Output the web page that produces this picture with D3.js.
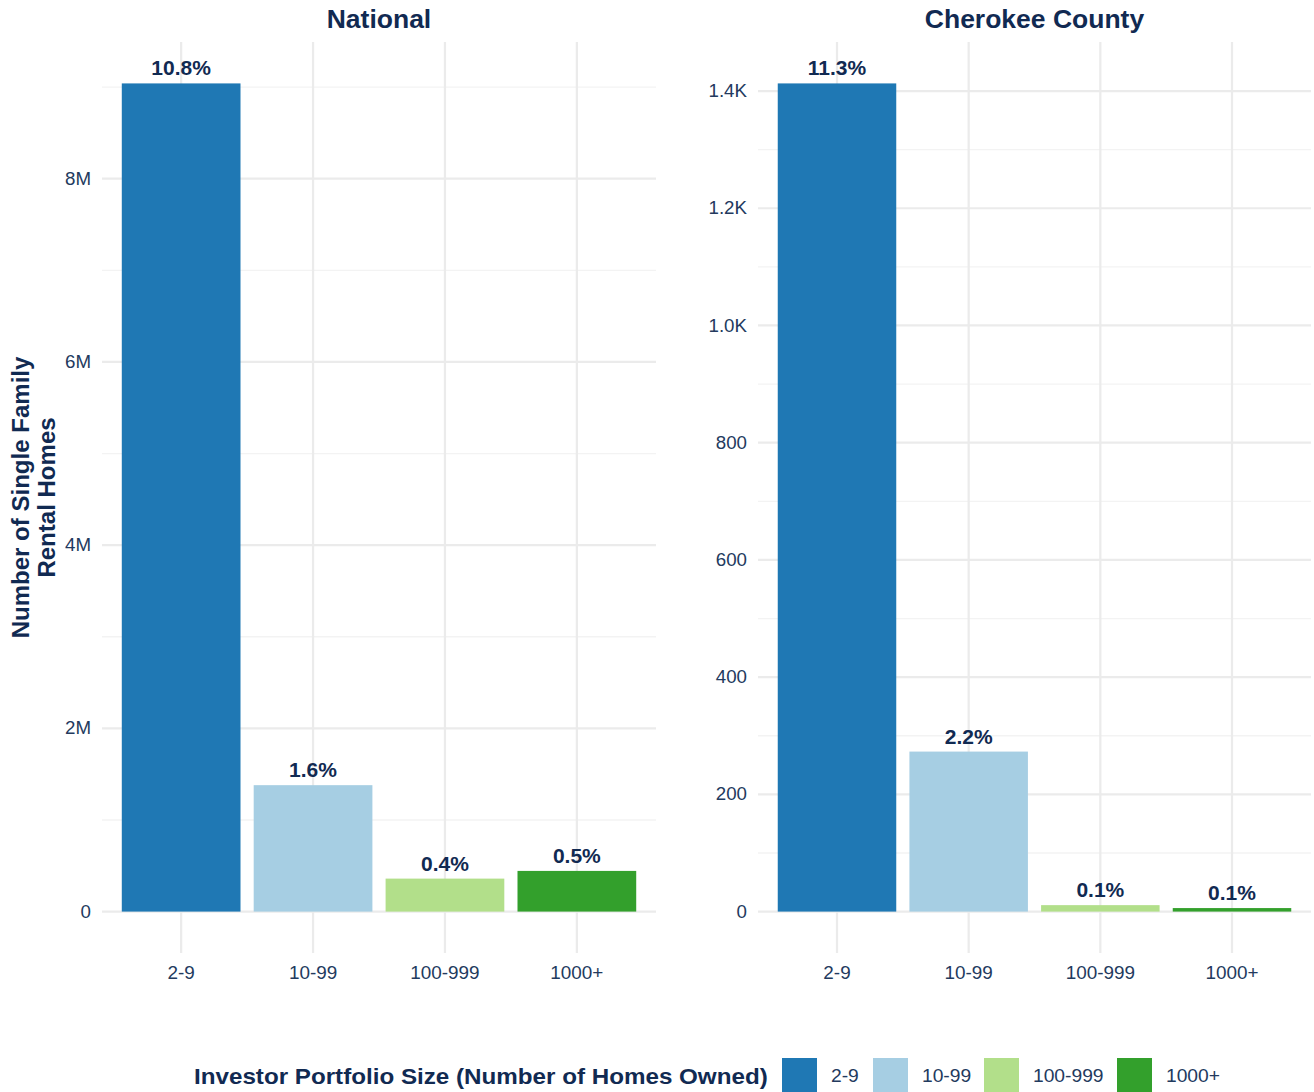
<!DOCTYPE html>
<html>
<head>
<meta charset="utf-8">
<script src="https://cdn.jsdelivr.net/npm/d3@7"></script>
<style>
  html, body { margin: 0; padding: 0; background: #ffffff; }
  svg { display: block; font-family: "Liberation Sans", Arial, sans-serif; }
</style>
</head>
<body>
<svg id="chart" width="1314" height="1092"></svg>
<script>
// ---- Data ----
const categories = ["2-9", "10-99", "100-999", "1000+"];
const panelTitles = ["National", "Cherokee County"];
const nationalValues = [9040000, 1380000, 360000, 444000];
const cherokeeValues = [1413, 273, 11, 6];
const nationalPct = ["10.8%", "1.6%", "0.4%", "0.5%"];
const cherokeePct = ["11.3%", "2.2%", "0.1%", "0.1%"];
const nationalTicks = [0, 2000000, 4000000, 6000000, 8000000];
const nationalTickLabels = ["0", "2M", "4M", "6M", "8M"];
const cherokeeTicks = [0, 200, 400, 600, 800, 1000, 1200, 1400];
const cherokeeTickLabels = ["0", "200", "400", "600", "800", "1.0K", "1.2K", "1.4K"];
const colors = ["#1f78b4", "#a6cee3", "#b2df8a", "#33a02c"];
const yTitleLines = ["Number of Single Family", "Rental Homes"];
const legendTitle = "Investor Portfolio Size (Number of Homes Owned)";

(function () {
  const svg = d3.select("#chart");
  const navy = "#112a52";
  const tickColor = "#233a5e";
  const panelTop = 42, panelBottom = 953;
  const panels = [
    { title: panelTitles[0], values: nationalValues, pct: nationalPct, ticks: nationalTicks, tickLabels: nationalTickLabels, x0: 102, x1: 656 },
    { title: panelTitles[1], values: cherokeeValues, pct: cherokeePct, ticks: cherokeeTicks, tickLabels: cherokeeTickLabels, x0: 758, x1: 1311 }
  ];

  // horizontal glyph stretch helper (keeps anchor x in place)
  function stretch(sel, s) {
    sel.each(function () {
      const t = d3.select(this);
      const x = +t.attr("x") || 0;
      t.attr("x", x / s).attr("transform", `scale(${s},1)`);
    });
  }

  const color = d3.scaleOrdinal().domain(categories).range(colors);

  panels.forEach(p => {
    const g = svg.append("g");
    const maxV = d3.max(p.values);
    const y = d3.scaleLinear().domain([-0.05 * maxV, 1.05 * maxV]).range([panelBottom, panelTop]);
    const x = d3.scaleBand().domain(categories).range([p.x0, p.x1]).paddingInner(0.1).paddingOuter(0.15);

    // minor gridlines
    const step = p.ticks[1] - p.ticks[0];
    const minor = [];
    p.ticks.forEach(t => { const m = t + step / 2; if (m <= y.domain()[1]) minor.push(m); });
    g.append("g").selectAll("line").data(minor).join("line")
      .attr("x1", p.x0).attr("x2", p.x1)
      .attr("y1", d => y(d)).attr("y2", d => y(d))
      .attr("stroke", "#f3f3f3").attr("stroke-width", 1.3);

    // major horizontal gridlines
    g.append("g").selectAll("line").data(p.ticks).join("line")
      .attr("x1", p.x0).attr("x2", p.x1)
      .attr("y1", d => y(d)).attr("y2", d => y(d))
      .attr("stroke", "#ebebeb").attr("stroke-width", 2.2);

    // vertical gridlines
    g.append("g").selectAll("line").data(categories).join("line")
      .attr("x1", d => x(d) + x.bandwidth() / 2).attr("x2", d => x(d) + x.bandwidth() / 2)
      .attr("y1", panelTop).attr("y2", panelBottom)
      .attr("stroke", "#ebebeb").attr("stroke-width", 2.2);

    // bars
    g.append("g").selectAll("rect").data(categories).join("rect")
      .attr("x", d => x(d))
      .attr("width", x.bandwidth())
      .attr("y", (d, i) => y(p.values[i]))
      .attr("height", (d, i) => y(0) - y(p.values[i]))
      .attr("fill", d => color(d));

    // bar labels
    g.append("g").selectAll("text").data(categories).join("text")
      .attr("x", d => x(d) + x.bandwidth() / 2)
      .attr("y", (d, i) => y(p.values[i]) - 8)
      .attr("text-anchor", "middle")
      .attr("font-weight", "bold")
      .attr("font-size", 21)
      .attr("fill", navy)
      .text((d, i) => p.pct[i]);

    // y axis
    const yAxis = d3.axisLeft(y).tickValues(p.ticks).tickFormat((d, i) => p.tickLabels[i]).tickSize(0).tickPadding(11);
    const ya = g.append("g").attr("transform", `translate(${p.x0},0)`).call(yAxis);
    ya.select(".domain").remove();
    ya.selectAll("text").attr("font-size", 17.5).attr("fill", tickColor).attr("font-family", "Liberation Sans, Arial, sans-serif");
    stretch(ya.selectAll("text"), 1.07);

    // x axis
    const xAxis = d3.axisBottom(x).tickSize(0).tickPadding(0);
    const xa = g.append("g").attr("transform", `translate(0,${panelBottom})`).call(xAxis);
    xa.select(".domain").remove();
    xa.selectAll("text").attr("dy", 0).attr("y", 26).attr("font-size", 17.5).attr("fill", tickColor).attr("font-family", "Liberation Sans, Arial, sans-serif");
    stretch(xa.selectAll("text"), 1.08);

    // panel title
    const pt = svg.append("text")
      .attr("x", (p.x0 + p.x1) / 2).attr("y", 28)
      .attr("text-anchor", "middle")
      .attr("font-weight", "bold").attr("font-size", 25)
      .attr("fill", navy)
      .text(p.title);
    stretch(pt, 1.06);
  });

  // y axis title
  const yt = svg.append("text")
    .attr("transform", `translate(29,${(panelTop + panelBottom) / 2}) rotate(-90) scale(1.045,1)`)
    .attr("text-anchor", "middle")
    .attr("font-weight", "bold").attr("font-size", 23)
    .attr("fill", navy);
  yt.selectAll("tspan").data(yTitleLines).join("tspan")
    .attr("x", 0).attr("y", (d, i) => i * 26)
    .text(d => d);

  // legend
  const lg = svg.append("g");
  const lt = lg.append("text").attr("x", 194).attr("y", 1084)
    .attr("font-weight", "bold").attr("font-size", 22).attr("fill", navy)
    .text(legendTitle);
  stretch(lt, 1.1);
  const legendX = [782, 873, 984, 1117];
  const keys = lg.selectAll("g.key").data(categories).join("g").attr("class", "key")
    .attr("transform", (d, i) => `translate(${legendX[i]},1058)`);
  keys.append("rect").attr("width", 35).attr("height", 34).attr("fill", d => color(d));
  const kl = keys.append("text").attr("x", 49).attr("y", 24)
    .attr("font-size", 17.5).attr("fill", tickColor).text(d => d);
  stretch(kl, 1.1);
})();
</script>
</body>
</html>
